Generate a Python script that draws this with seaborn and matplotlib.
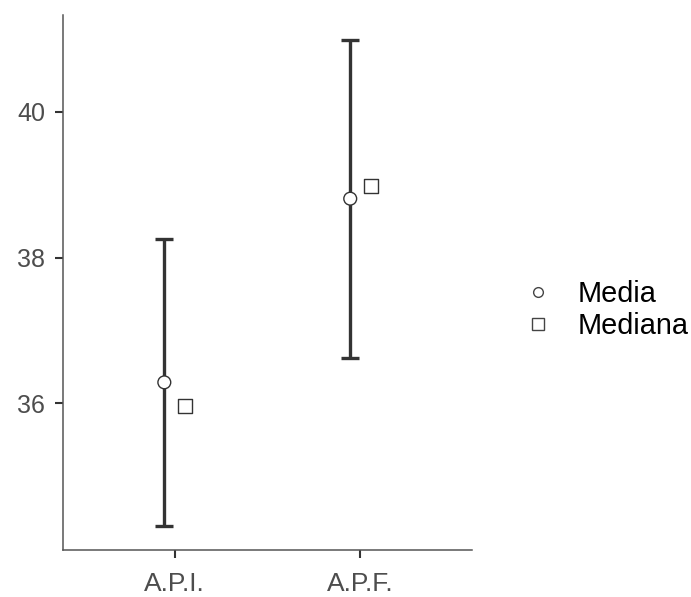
import numpy as np
import pandas as pd
import matplotlib.pyplot as plt
import seaborn as sns
from matplotlib.lines import Line2D

# values
grupos = ['A.P.I.', 'A.P.F.']
media = [36.29, 38.81]
mediana = [35.97, 38.98]
ic_inf = [34.32, 36.63]
ic_sup = [38.25, 40.99]

sns.set_style('ticks')
plt.rcParams['font.family'] = ['Liberation Sans', 'DejaVu Sans']

pos = np.arange(len(grupos))
dodge = 0.055

df = pd.DataFrame({
    'x': np.concatenate([pos - dodge, pos + dodge]),
    'valor': media + mediana,
    'estad': ['Media'] * len(grupos) + ['Mediana'] * len(grupos),
})

fig = plt.figure(figsize=(6.91, 5.97), dpi=100)
ax = fig.add_axes([63 / 691, 47 / 597, 409 / 691, 535 / 597])

# error bars around the mean
m = np.array(media)
ax.errorbar(pos - dodge, m, yerr=[m - np.array(ic_inf), np.array(ic_sup) - m],
            fmt='none', ecolor='#333333', elinewidth=2.4, capsize=6.5,
            capthick=2.4, zorder=2)

sns.scatterplot(data=df, x='x', y='valor', style='estad', size='estad',
                markers={'Media': 'o', 'Mediana': 's'},
                sizes={'Media': 85, 'Mediana': 105},
                color='white', edgecolor='#333333', linewidth=1.0,
                zorder=3, legend=False, ax=ax)

ax.set_xlim(-0.6, 1.6)
ax.set_ylim(33.99, 41.33)
ax.set_xticks(pos, grupos)
ax.set_yticks([36, 38, 40])
ax.set_xlabel('')
ax.set_ylabel('')
ax.tick_params(colors='#333333', labelcolor='#4D4D4D',
               length=5.5, width=1.5)
ax.tick_params(axis='x', labelsize=19, pad=10)
ax.tick_params(axis='y', labelsize=18, pad=7.5)
for s in ['top', 'right']:
    ax.spines[s].set_visible(False)
for s in ['left', 'bottom']:
    ax.spines[s].set_color('#555555')
    ax.spines[s].set_linewidth(1.1)

handles = [
    Line2D([], [], ls='none', marker='o', ms=7, mfc='white', mec='#444444', mew=1.0),
    Line2D([], [], ls='none', marker='s', ms=9, mfc='white', mec='#444444', mew=1.0),
]
fig.legend(handles, ['Media', 'Mediana'], loc='center left',
           bbox_to_anchor=(526 / 691, 1 - 310 / 597), frameon=False,
           fontsize=20.8, labelcolor='black', handlelength=0.8,
           handletextpad=1.0, labelspacing=0.15,
           borderpad=0, borderaxespad=0)

fig.savefig('out.png', dpi=100)
